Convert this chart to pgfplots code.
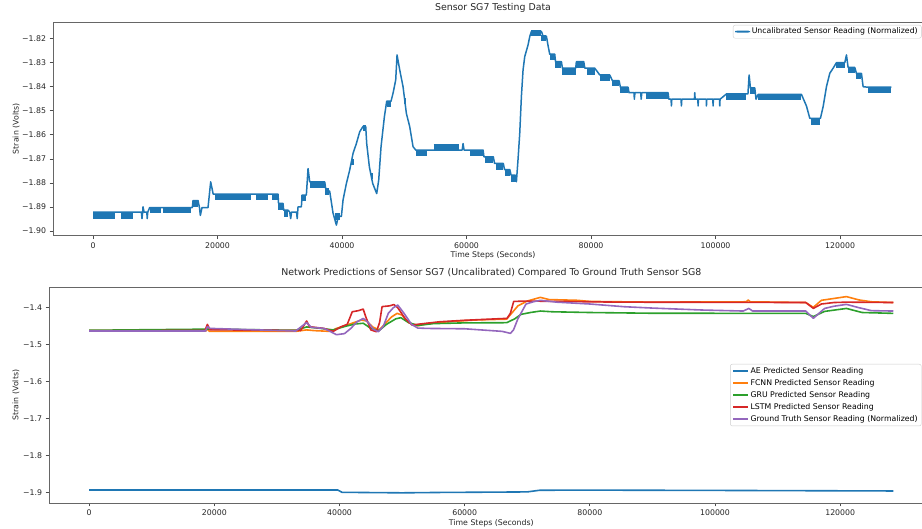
\documentclass[border=0pt]{standalone}
\usepackage{pgfplots}
\pgfplotsset{compat=1.18}
\usepackage{fontspec}
\setmainfont{DejaVu Sans}
\definecolor{C0}{HTML}{1F77B4}
\definecolor{C1}{HTML}{FF7F0E}
\definecolor{C2}{HTML}{2CA02C}
\definecolor{C3}{HTML}{D62728}
\definecolor{C4}{HTML}{9467BD}
\newcommand{\tickfont}{\fontsize{7.8}{9}\selectfont}
\newcommand{\titlefont}{\fontsize{9.4}{11}\selectfont}

\pgfplotstableread{
x y
0 -1.8921
7765 -1.8921
7870 -1.8948
7980 -1.8921
8033 -1.8899
8200 -1.8921
8650 -1.8921
8700 -1.8948
8800 -1.8921
9104 -1.8902
15958 -1.8902
16065 -1.8873
16868 -1.8873
17100 -1.8902
17243 -1.8935
17511 -1.8902
18475 -1.8902
18903 -1.8795
19300 -1.8846
29720 -1.8846
29800 -1.8885
30524 -1.8885
30631 -1.8913
31327 -1.8913
31600 -1.8921
31750 -1.8948
31900 -1.8921
32700 -1.8921
32800 -1.8948
32933 -1.8899
33469 -1.8899
33600 -1.8850
34272 -1.8850
34540 -1.8740
34808 -1.8795
37217 -1.8795
37378 -1.8823
38021 -1.8835
38556 -1.8925
39092 -1.8975
39400 -1.8939
39895 -1.8939
40163 -1.8871
40698 -1.8802
41234 -1.8746
41769 -1.8677
42305 -1.8636
42840 -1.8587
43376 -1.8565
43804 -1.8565
43964 -1.8636
44393 -1.8733
44928 -1.8802
45571 -1.8844
45892 -1.8788
46267 -1.8649
46803 -1.8525
47178 -1.8460
47874 -1.8460
48194 -1.8427
48623 -1.8372
48838 -1.8268
49266 -1.8330
49802 -1.8400
50337 -1.8511
50873 -1.8566
51408 -1.8649
51837 -1.8663
59300 -1.8663
59441 -1.8636
59600 -1.8663
62654 -1.8663
62800 -1.8691
64300 -1.8691
64500 -1.8719
65900 -1.8719
66100 -1.8744
66950 -1.8744
67150 -1.8767
67800 -1.8767
68009 -1.8795
68276 -1.8700
68544 -1.8594
68812 -1.8440
69079 -1.8330
69347 -1.8275
69883 -1.8226
70150 -1.8192
70418 -1.8170
72025 -1.8170
72293 -1.8190
72828 -1.8190
73100 -1.8230
73364 -1.8265
74167 -1.8265
74300 -1.8296
75238 -1.8296
75398 -1.8323
77540 -1.8323
77640 -1.8296
78826 -1.8296
79000 -1.8323
80593 -1.8323
81396 -1.8351
83003 -1.8351
83431 -1.8375
84502 -1.8375
84716 -1.8402
85948 -1.8402
86100 -1.8425
86912 -1.8425
86950 -1.8452
87050 -1.8425
87982 -1.8425
88050 -1.8452
88150 -1.8425
92374 -1.8425
92500 -1.8452
92850 -1.8452
92910 -1.8480
92970 -1.8452
94450 -1.8452
94516 -1.8480
94580 -1.8452
96600 -1.8452
96658 -1.8425
96720 -1.8452
97150 -1.8452
97194 -1.8480
97250 -1.8452
98500 -1.8452
98532 -1.8480
98590 -1.8452
99560 -1.8452
99603 -1.8480
99650 -1.8452
100630 -1.8452
100674 -1.8480
100720 -1.8452
101745 -1.8430
104958 -1.8430
105200 -1.8430
105387 -1.8351
105601 -1.8405
106297 -1.8405
106500 -1.8452
106832 -1.8432
113794 -1.8432
114597 -1.8480
115133 -1.8531
116846 -1.8531
117275 -1.8483
117810 -1.8400
118346 -1.8344
118881 -1.8323
119417 -1.8300
120755 -1.8300
121023 -1.8268
121291 -1.8320
122362 -1.8320
122630 -1.8345
123434 -1.8345
123701 -1.8400
124504 -1.8402
128252 -1.8402
}\tabSGseven

\pgfplotstableread{
x y
0 -1.8936
3481 -1.8936
3500 nan
4552 -1.8936
6426 -1.8936
6500 nan
9211 -1.8913
10978 -1.8913
11000 nan
11246 -1.8913
15797 -1.8913
15900 nan
16065 -1.8885
16868 -1.8885
16900 nan
19546 -1.8859
25436 -1.8859
25500 nan
26240 -1.8859
28114 -1.8859
28200 nan
28810 -1.8859
29720 -1.8859
29720 nan
29720 -1.8899
30524 -1.8899
30600 nan
30631 -1.8927
31327 -1.8927
31400 nan
33469 -1.8864
34272 -1.8864
34300 nan
34808 -1.8809
37217 -1.8809
37217 nan
37217 -1.8835
37900 -1.8835
38000 nan
38824 -1.8939
39627 -1.8939
39700 nan
41500 -1.8712
41900 -1.8712
42000 nan
43376 -1.8573
43804 -1.8573
43900 nan
44650 -1.8770
45000 -1.8770
45100 nan
47178 -1.8472
47874 -1.8472
47900 nan
50000 -1.8460
50350 -1.8460
50400 nan
51837 -1.8677
53657 -1.8677
53700 nan
54727 -1.8649
58797 -1.8649
58800 nan
60512 -1.8677
62654 -1.8677
62700 nan
62921 -1.8705
64260 -1.8705
64300 nan
64796 -1.8733
65867 -1.8733
65900 nan
66134 -1.8757
66938 -1.8757
67000 nan
67205 -1.8783
68009 -1.8783
68100 nan
70418 -1.8178
72025 -1.8178
72025 nan
72025 -1.8199
72828 -1.8199
72900 nan
73364 -1.8278
74167 -1.8278
74167 nan
74167 -1.8310
75238 -1.8310
75300 nan
75398 -1.8337
77540 -1.8337
77540 nan
77540 -1.8310
78826 -1.8310
78900 nan
79361 -1.8337
80593 -1.8337
80700 nan
81396 -1.8362
83003 -1.8362
83100 nan
83431 -1.8386
84502 -1.8386
84600 nan
84716 -1.8414
85948 -1.8414
86000 nan
88785 -1.8440
92374 -1.8440
92400 nan
101745 -1.8441
104958 -1.8441
105000 nan
105601 -1.8418
106297 -1.8418
106300 nan
106832 -1.8443
113794 -1.8443
113800 nan
115293 -1.8545
116846 -1.8545
116900 nan
119417 -1.8310
120755 -1.8310
120800 nan
121291 -1.8330
122362 -1.8330
122400 nan
122630 -1.8354
123434 -1.8354
123500 nan
124504 -1.8414
128252 -1.8414
}\tabBands

\pgfplotstableread{
x y
0 -1.8928
39700 -1.8928
40400 -1.8991
45000 -1.8998
50000 -1.9005
56000 -1.8995
66000 -1.8985
70000 -1.8980
72000 -1.8935
80000 -1.8932
100000 -1.8940
128478 -1.8955
}\tabAE

\pgfplotstableread{
x y
0 -1.4622
18700 -1.4625
18886 -1.4560
19200 -1.4640
33000 -1.4640
34740 -1.4600
36000 -1.4620
38500 -1.4640
39500 -1.4560
40500 -1.4510
42000 -1.4420
43500 -1.4333
44300 -1.4360
45300 -1.4520
46300 -1.4600
47200 -1.4450
48300 -1.4250
49200 -1.4153
50000 -1.4200
51000 -1.4400
52500 -1.4490
54000 -1.4430
58000 -1.4370
62000 -1.4330
66700 -1.4310
67500 -1.4150
68500 -1.3950
70000 -1.3820
72086 -1.3720
73500 -1.3780
78000 -1.3800
80000 -1.3830
90000 -1.3850
105000 -1.3840
105300 -1.3790
105600 -1.3840
114500 -1.3860
115700 -1.3990
117000 -1.3800
119000 -1.3750
121000 -1.3700
123000 -1.3790
125000 -1.3840
128478 -1.3860
}\tabFCNN

\pgfplotstableread{
x y
0 -1.4610
18886 -1.4580
19500 -1.4580
33000 -1.4610
34740 -1.4520
37000 -1.4560
39000 -1.4600
41000 -1.4500
42500 -1.4440
43800 -1.4420
45000 -1.4560
46300 -1.4620
47500 -1.4450
49000 -1.4300
49800 -1.4270
51000 -1.4400
52500 -1.4480
55000 -1.4430
60000 -1.4410
66700 -1.4405
68000 -1.4300
69000 -1.4180
70500 -1.4130
72086 -1.4090
74000 -1.4110
80000 -1.4130
90000 -1.4150
114500 -1.4153
115700 -1.4240
117500 -1.4100
121000 -1.4020
123500 -1.4130
128478 -1.4153
}\tabGRU

\pgfplotstableread{
x y
0 -1.4622
18500 -1.4615
18886 -1.4450
19300 -1.4595
25000 -1.4605
33800 -1.4615
34740 -1.4360
35200 -1.4514
37500 -1.4560
39000 -1.4640
40166 -1.4520
41230 -1.4450
42030 -1.4110
43000 -1.4080
43776 -1.4036
44200 -1.4250
45000 -1.4600
45900 -1.4650
46400 -1.4400
46800 -1.3970
48000 -1.3950
48676 -1.3914
49300 -1.4000
50500 -1.4300
51600 -1.4470
52400 -1.4450
56000 -1.4380
60000 -1.4340
66766 -1.4288
67300 -1.4150
67830 -1.3830
70000 -1.3820
75000 -1.3830
85000 -1.3850
105000 -1.3856
114500 -1.3860
115710 -1.4018
117000 -1.3900
119000 -1.3860
121000 -1.3850
128478 -1.3860
}\tabLSTM

\pgfplotstableread{
x y
0 -1.4630
18600 -1.4630
18886 -1.4510
19300 -1.4559
25000 -1.4590
33000 -1.4630
34740 -1.4400
35500 -1.4530
37500 -1.4560
38500 -1.4640
39500 -1.4730
40800 -1.4700
41800 -1.4560
42800 -1.4380
43800 -1.4290
44600 -1.4400
45400 -1.4580
46200 -1.4650
47000 -1.4500
47800 -1.4150
48600 -1.4000
49300 -1.3928
50300 -1.4150
51500 -1.4450
52500 -1.4550
54000 -1.4560
60000 -1.4570
66000 -1.4640
67300 -1.4694
67800 -1.4600
68500 -1.4300
69800 -1.3900
71000 -1.3838
72086 -1.3800
74700 -1.3850
80000 -1.3900
85450 -1.3973
90000 -1.4010
98000 -1.4063
104500 -1.4090
105400 -1.4020
106000 -1.4090
114500 -1.4090
115700 -1.4288
117500 -1.4020
119000 -1.3960
121000 -1.3910
123000 -1.4000
125000 -1.4080
128478 -1.4090
}\tabGT

\pgfplotsset{
  mpl/.style={
    scale only axis,
    xmin=-6425, xmax=134925,
    scaled x ticks=false, scaled y ticks=false,
    xtick={0,20000,40000,60000,80000,100000,120000},
    xticklabels={0,20000,40000,60000,80000,100000,120000},
    tick align=outside, tick pos=left, major tick length=3.5pt,
    every tick/.style={black!70, line width=0.8pt},
    axis line style={black!60, line width=0.8pt},
    tick label style={font=\tickfont, text=black!85},
    label style={font=\tickfont, text=black!85},
    title style={font=\titlefont, text=black!85, anchor=base},
    legend cell align=left,
    legend image code/.code={\draw[##1, line width=1.6pt] (0pt,0pt) -- (15pt,0pt);},
  }
}

\begin{document}
\begin{tikzpicture}
\useasboundingbox (0pt,0pt) rectangle (922pt,529pt);
\clip (0pt,0pt) rectangle (922pt,529pt);
\begin{axis}[mpl,
  at={(53pt,293.3pt)}, anchor=south west,
  width=880pt, height=213.7pt,
  ymin=-1.9019, ymax=-1.8131,
  ytick={-1.90,-1.89,-1.88,-1.87,-1.86,-1.85,-1.84,-1.83,-1.82},
  yticklabels={−1.90,−1.89,−1.88,−1.87,−1.86,−1.85,−1.84,−1.83,−1.82},
  title={Sensor SG7 Testing Data},
  title style={at={(axis description cs:0.5,1.028)}},
  xlabel={Time Steps (Seconds)},
  xlabel style={at={(axis description cs:0.5,-0.103)}, anchor=base},
  ylabel={Strain (Volts)},
  ylabel style={at={(axis description cs:-0.0392,0.5)}, anchor=base},
  legend image code/.code={\fill[fill=C0, draw=none] (0pt,-0.9pt) rectangle (15pt,1.1pt);},
  legend style={at={(axis description cs:0.7727,0.986)}, anchor=north west,
    draw=black!20, rounded corners=2pt, fill=white, font=\tickfont,
    inner xsep=2pt, inner ysep=1.2pt, nodes={inner sep=1.6pt}},
]
\addplot[C0, line width=1.5pt, line join=round] table[x=x,y=y] {\tabSGseven};
\addlegendentry{Uncalibrated Sensor Reading (Normalized)}
\addplot[C0, line width=6.2pt, line cap=butt, unbounded coords=jump, forget plot] table[x=x,y=y] {\tabBands};
\end{axis}

\begin{axis}[mpl,
  at={(49pt,26pt)}, anchor=south west,
  width=884.6pt, height=216pt,
  ymin=-1.928, ymax=-1.344,
  ytick={-1.9,-1.8,-1.7,-1.6,-1.5,-1.4},
  yticklabels={−1.9,−1.8,−1.7,−1.6,−1.5,−1.4},
  title={Network Predictions of Sensor SG7 (Uncalibrated) Compared To Ground Truth Sensor SG8},
  title style={at={(axis description cs:0.5,1.026)}},
  xlabel={Time Steps (Seconds)},
  xlabel style={at={(axis description cs:0.5,-0.105)}, anchor=base},
  ylabel={Strain (Volts)},
  ylabel style={at={(axis description cs:-0.0345,0.5)}, anchor=base},
  legend style={at={(axis description cs:0.770,0.6435)}, anchor=north west,
    draw=black!20, rounded corners=2pt, fill=white, font=\tickfont,
    inner xsep=2pt, inner ysep=1.5pt, row sep=1.4pt, nodes={inner sep=1.6pt}},
]
\addplot[C0, line width=1.6pt] table[x=x,y=y] {\tabAE};
\addlegendentry{AE Predicted Sensor Reading}
\addplot[C1, line width=1.6pt, line join=round] table[x=x,y=y] {\tabFCNN};
\addlegendentry{FCNN Predicted Sensor Reading}
\addplot[C2, line width=1.6pt, line join=round] table[x=x,y=y] {\tabGRU};
\addlegendentry{GRU Predicted Sensor Reading}
\addplot[C3, line width=1.6pt, line join=round] table[x=x,y=y] {\tabLSTM};
\addlegendentry{LSTM Predicted Sensor Reading}
\addplot[C4, line width=1.6pt, line join=round] table[x=x,y=y] {\tabGT};
\addlegendentry{Ground Truth Sensor Reading (Normalized)}
\end{axis}
\end{tikzpicture}
\end{document}
